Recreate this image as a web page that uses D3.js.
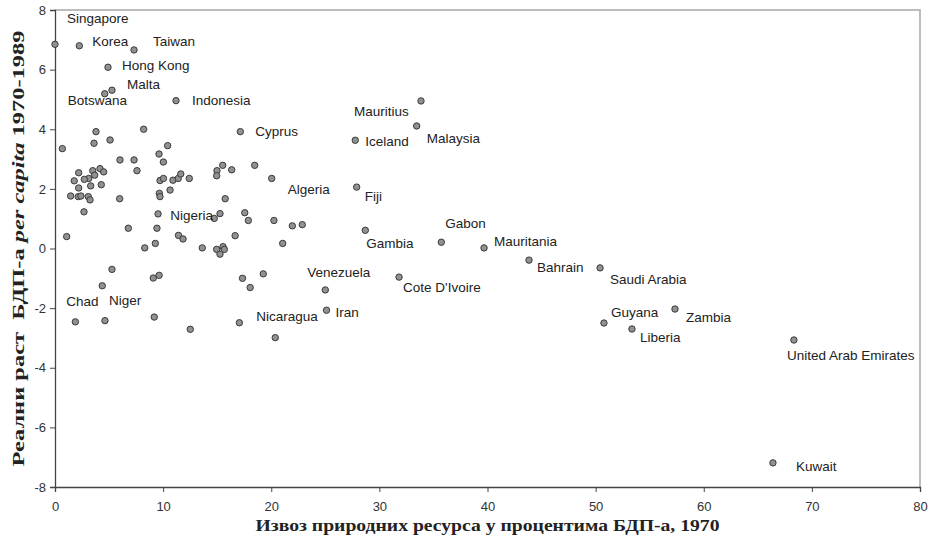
<!DOCTYPE html>
<html>
<head>
<meta charset="utf-8">
<script src="https://cdn.jsdelivr.net/npm/d3@7"></script>
<style>
  body { margin: 0; background: #fff; }
  svg { display: block; }
</style>
</head>
<body>
<div id="chart"></div>
<script>
// labelled countries: export share of GDP 1970 (%), real growth per capita 1970-1989 (%)
const names = ['Singapore', 'Korea', 'Taiwan', 'Hong Kong', 'Malta', 'Botswana', 'Indonesia',
  'Mauritius', 'Malaysia', 'Iceland', 'Cyprus', 'Fiji', 'Algeria', 'Gabon', 'Gambia',
  'Mauritania', 'Bahrain', 'Saudi Arabia', 'Venezuela', "Cote D'Ivoire", 'Iran', 'Nicaragua',
  'Guyana', 'Zambia', 'Liberia', 'United Arab Emirates', 'Kuwait', 'Chad', 'Niger', 'Nigeria'];
const namedExport = [0.0, 2.25, 7.31, 4.90, 5.27, 4.60, 11.19,
  33.85, 33.45, 27.77, 17.14, 27.90, 20.04, 35.73, 28.70,
  39.68, 43.84, 50.41, 25.00, 31.82, 25.11, 17.05,
  50.77, 57.34, 53.36, 68.34, 66.40, 1.88, 4.62, 14.73];
const namedGrowth = [6.85, 6.80, 6.66, 6.08, 5.31, 5.19, 4.96,
  4.95, 4.11, 3.63, 3.92, 2.06, 2.35, 0.21, 0.61,
  0.02, -0.39, -0.65, -1.39, -0.96, -2.07, -2.49,
  -2.50, -2.03, -2.70, -3.07, -7.19, -2.46, -2.42, 1.01];

// unlabelled countries
const otherExport = [0.68, 3.79, 3.61, 5.09, 8.20, 6.01, 7.31, 7.58, 9.62, 10.42, 10.02,
  2.19, 3.49, 4.16, 4.50, 3.67, 3.12, 2.71, 1.78, 3.30, 4.28, 2.19, 1.45, 2.15, 2.40,
  3.08, 3.24, 5.98, 2.68, 1.08, 6.78, 5.27, 4.37, 8.30, 9.28, 9.43, 9.53, 9.65, 9.71,
  9.71, 10.03, 10.64, 10.91, 11.40, 11.63, 12.42, 11.42, 11.84, 13.62, 14.95, 15.26,
  15.54, 15.66, 14.98, 14.95, 15.51, 16.34, 15.74, 17.55, 17.88, 16.66, 18.47, 20.25,
  21.95, 22.87, 21.06, 9.09, 9.63, 9.18, 12.51, 17.34, 18.05, 19.26, 20.37, 15.26];
const otherGrowth = [3.35, 3.92, 3.53, 3.64, 4.00, 2.97, 2.97, 2.61, 3.17, 3.45, 2.90,
  2.54, 2.61, 2.68, 2.57, 2.46, 2.35, 2.32, 2.27, 2.10, 2.14, 2.03, 1.76, 1.74, 1.76,
  1.74, 1.63, 1.67, 1.23, 0.40, 0.68, -0.70, -1.25, 0.02, 0.17, 0.68, 1.16, 1.85, 1.74,
  2.28, 2.35, 1.96, 2.29, 2.35, 2.50, 2.35, 0.44, 0.32, 0.02, -0.03, -0.19,
  0.06, -0.03, 2.61, 2.44, 2.79, 2.64, 1.67, 1.20, 0.94, 0.43, 2.79, 0.94,
  0.76, 0.80, 0.17, -0.99, -0.90, -2.30, -2.71, -1.00, -1.31, -0.85, -2.99, 1.17];

const xTicks = [0, 10, 20, 30, 40, 50, 60, 70, 80];
const yTicks = [-8, -6, -4, -2, 0, 2, 4, 6, 8];

const xTitle = 'Извоз природних ресурса у процентима БДП-а, 1970';

// label placement relative to its dot, in pixels
const labelOffset = {
  'Singapore': [12, -26], 'Korea': [13, -5], 'Taiwan': [19, -9], 'Hong Kong': [14, -2],
  'Malta': [15, -6], 'Botswana': [-37, 7], 'Indonesia': [16, 0], 'Mauritius': [-67, 10],
  'Malaysia': [10, 12], 'Iceland': [10, 1], 'Cyprus': [15, 0], 'Fiji': [8, 9],
  'Algeria': [16, 11], 'Gabon': [4, -19], 'Gambia': [1, 13], 'Mauritania': [10, -7],
  'Bahrain': [8, 7], 'Saudi Arabia': [10, 11], 'Venezuela': [-18, -18],
  "Cote D'Ivoire": [4, 10], 'Iran': [9, 2], 'Nicaragua': [17, -6], 'Guyana': [7, -11],
  'Zambia': [11, 8], 'Liberia': [8, 8], 'United Arab Emirates': [-7, 15], 'Kuwait': [23, 3],
  'Chad': [-9, -21], 'Niger': [4, -20], 'Nigeria': [-44, -3]
};

const width = 933;
const height = 544;
const margin = {top: 10, right: 13, bottom: 57, left: 55};

const named = names.map((n, i) => ({name: n, x: namedExport[i], y: namedGrowth[i]}));
const others = otherExport.map((v, i) => ({name: '', x: v, y: otherGrowth[i]}));

const x = d3.scaleLinear().domain([0, 80]).range([margin.left, width - margin.right]);
const y = d3.scaleLinear().domain([-8, 8]).range([height - margin.bottom, margin.top]);

const svg = d3.select('#chart')
              .append('svg')
              .attr('width', width)
              .attr('height', height)
              .style('font-family', '"Liberation Sans", Arial, sans-serif');

// frame top / right
svg.append('path')
   .attr('d', `M${x(0)},${y(8)}H${x(80)}V${y(-8)}`)
   .attr('fill', 'none')
   .attr('stroke', '#a8a8a8')
   .attr('stroke-width', 1.5);

const xAxis = svg.append('g')
                 .attr('transform', `translate(0,${y(-8)})`)
                 .call(d3.axisBottom(x).tickValues(xTicks).tickFormat(d => String(d))
                         .tickSize(5).tickPadding(10));

const yAxis = svg.append('g')
                 .attr('transform', `translate(${x(0)},0)`)
                 .call(d3.axisLeft(y).tickValues(yTicks).tickFormat(d => String(d))
                         .tickSize(5).tickPadding(4));

[xAxis, yAxis].forEach(g => {
  g.select('.domain').attr('stroke', '#444').attr('stroke-width', 1.3);
  g.selectAll('.tick line').attr('stroke', '#444');
  g.selectAll('.tick text')
   .attr('fill', '#333')
   .style('font-family', '"Liberation Sans", Arial, sans-serif')
   .style('font-size', '13px');
});

// points
const all = others.concat(named);
svg.append('g')
   .selectAll('circle')
   .data(all)
   .enter()
   .append('circle')
   .attr('cx', d => x(d.x))
   .attr('cy', d => y(d.y))
   .attr('r', 3.2)
   .attr('fill', '#919191')
   .attr('stroke', '#3a3a3a')
   .attr('stroke-width', 1);

// country names
svg.append('g')
   .selectAll('text')
   .data(named)
   .enter()
   .append('text')
   .attr('x', d => x(d.x) + labelOffset[d.name][0])
   .attr('y', d => y(d.y) + labelOffset[d.name][1])
   .attr('dy', '0.35em')
   .attr('fill', '#222')
   .style('font-size', '13.5px')
   .text(d => d.name);

// axis titles
svg.append('text')
   .attr('x', (x(0) + x(80)) / 2)
   .attr('y', 531)
   .attr('text-anchor', 'middle')
   .attr('textLength', 464)
   .attr('lengthAdjust', 'spacingAndGlyphs')
   .style('font-family', '"Liberation Serif", "DejaVu Serif", serif')
   .style('font-weight', 'bold')
   .style('font-size', '16px')
   .attr('fill', '#222')
   .text(xTitle);

const yTitle = svg.append('text')
                  .attr('transform', `translate(24,${(y(8) + y(-8)) / 2}) rotate(-90)`)
                  .attr('text-anchor', 'middle')
                  .attr('textLength', 436)
                  .attr('lengthAdjust', 'spacingAndGlyphs')
                  .style('font-family', '"Liberation Serif", "DejaVu Serif", serif')
                  .style('font-weight', 'bold')
                  .style('font-size', '16px')
                  .style('white-space', 'pre')
                  .attr('fill', '#222');
yTitle.append('tspan').text('Реални раст  БДП-а ');
yTitle.append('tspan').style('font-style', 'italic').text('per capita');
yTitle.append('tspan').text(' 1970-1989');
</script>
</body>
</html>
